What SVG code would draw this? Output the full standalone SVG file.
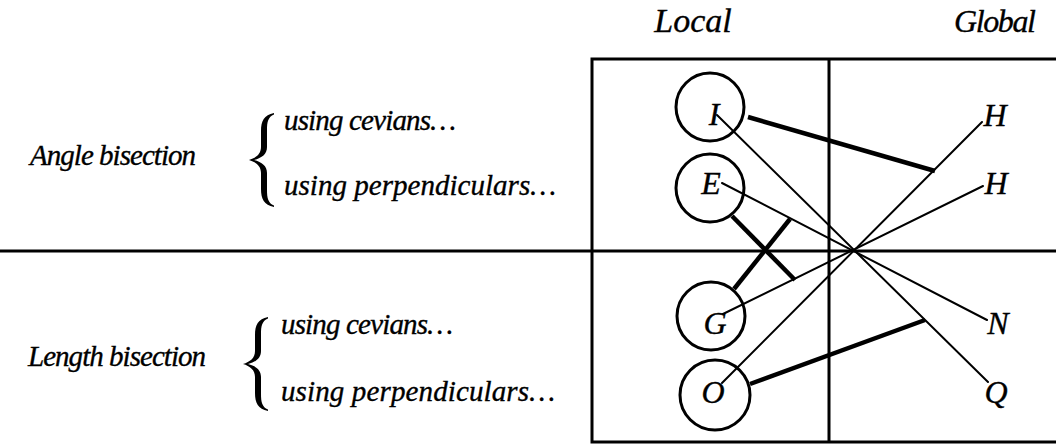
<svg xmlns="http://www.w3.org/2000/svg" width="1056" height="444" viewBox="0 0 1056 444">
<style>
.t{font-family:"Liberation Serif","Times New Roman",serif;font-style:italic;font-size:29px;fill:#000;stroke:#000;stroke-width:0.35}
.h{font-family:"Liberation Serif","Times New Roman",serif;font-style:italic;font-size:32px;fill:#000;stroke:#000;stroke-width:0.35}
.n{font-family:"Liberation Serif","Times New Roman",serif;font-style:italic;font-size:32px;fill:#000;stroke:#000;stroke-width:0.35;text-anchor:middle}
.frame{fill:none;stroke:#000;stroke-width:3}
.c{fill:#fff;stroke:#000;stroke-width:3}
.thin{stroke:#000;stroke-width:2;fill:none;stroke-linecap:round}
.thick{stroke:#000;stroke-width:4.5;fill:none}
</style>
<defs>
<path id="brace" d="M25,0 C15,2 12,8 12,18 L12,34 C12,41 7,45 0,47 C7,49 12,53 12,60 L12,76 C12,86 15,92 25,94 L25,92.5 C19,90 18,85 18,77 L18,60 C18,53 13,49 5,47 C13,45 18,41 18,34 L18,17 C18,9 19,4 25,1.5 Z" fill="#000"/>
</defs>
<rect width="1056" height="444" fill="#fff"/>
<g id="headers">
<text class="h" x="693" y="32" text-anchor="middle" style="font-size:34px">Local</text>
<text class="h" x="954" y="32" textLength="82" lengthAdjust="spacing">Global</text>
</g>
<g id="frame">
<path class="frame" d="M1058,59 H592 V442 H1058"/>
<line class="frame" x1="829" y1="59" x2="829" y2="442"/>
<line class="frame" x1="0" y1="251" x2="1056" y2="251"/>
</g>
<g id="angle-group">
<text class="t" x="30" y="165" textLength="166" lengthAdjust="spacing">Angle bisection</text>
<use href="#brace" transform="translate(249,113)"/>
<text class="t" x="284" y="130" textLength="172" lengthAdjust="spacing">using cevians…</text>
<text class="t" x="284" y="195" textLength="272" lengthAdjust="spacing">using perpendiculars…</text>
</g>
<g id="length-group">
<text class="t" x="28" y="366" textLength="178" lengthAdjust="spacing">Length bisection</text>
<use href="#brace" transform="translate(243,317)"/>
<text class="t" x="281" y="334" textLength="172" lengthAdjust="spacing">using cevians…</text>
<text class="t" x="281" y="401" textLength="274" lengthAdjust="spacing">using perpendiculars…</text>
</g>
<g id="node-I"><circle class="c" cx="710" cy="107" r="34"/></g>
<g id="node-E"><circle class="c" cx="710" cy="188" r="34"/></g>
<g id="node-G"><circle class="c" cx="711" cy="316" r="34"/></g>
<g id="node-O"><circle class="c" cx="715" cy="395" r="35"/></g>
<g id="connectors">
<line class="thin" x1="717" y1="115" x2="988" y2="382"/>
<line class="thin" x1="722" y1="183" x2="987" y2="320"/>
<line class="thin" x1="723" y1="314" x2="983" y2="186"/>
<line class="thin" x1="722" y1="383" x2="982" y2="122"/>
<line class="thick" x1="748" y1="117" x2="935" y2="171"/>
<line class="thick" x1="750" y1="384" x2="925" y2="320"/>
<line class="thick" x1="732" y1="216" x2="795" y2="280"/>
<line class="thick" x1="734" y1="289" x2="790" y2="219"/>
</g>
<g id="labels">
<text class="n" x="714" y="125">I</text>
<text class="n" x="711" y="194">E</text>
<text class="n" x="715" y="334">G</text>
<text class="n" x="713" y="403">O</text>
<text class="n" x="995" y="126">H</text>
<text class="n" x="996" y="194">H</text>
<text class="n" x="998" y="334">N</text>
<text class="n" x="996" y="403">Q</text>
</g>
</svg>
